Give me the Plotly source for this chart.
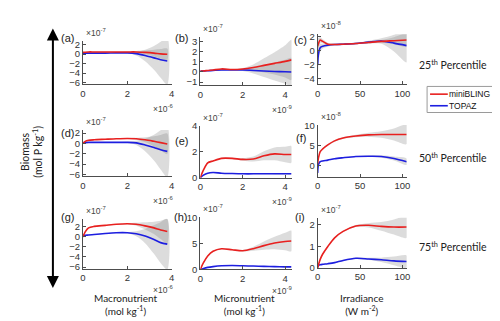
import plotly.graph_objects as go

W, H = 500, 321

# ---------------- data (scaled units: x in 1e-6 / 1e-9 / W m-2, y in shown exponent) ----------
X_MAC = [0, 0.1, 0.25, 0.5, 1.0, 1.5, 2.0, 2.4, 2.8, 3.2, 3.5, 3.8]
X_MIC = [0, 0.15, 0.35, 0.6, 1.0, 1.5, 2.0, 2.5, 3.0, 3.5, 4.0, 4.3]
X_IRR = [0, 1, 3, 6, 12, 20, 30, 45, 60, 75, 90, 105]

# 25th percentile
RED_A = [0.35, 0.4, 0.45, 0.45, 0.45, 0.45, 0.45, 0.45, 0.35, 0.2, 0.05, -0.05]
BLUE_A = [0.2, 0.2, 0.2, 0.2, 0.2, 0.25, 0.25, 0.1, -0.3, -0.8, -1.2, -1.45]
RED_SD_A = [0.1, 0.05, 0.05, 0.05, 0.05, 0.05, 0.1, 0.2, 0.4, 0.7, 1.0, 1.2]
BLUE_SD_A = [0.1, 0.05, 0.05, 0.05, 0.05, 0.05, 0.1, 0.4, 1.2, 2.5, 3.8, 5.0]

RED_B = [0.1, 0.1, 0.15, 0.2, 0.3, 0.25, 0.3, 0.45, 0.65, 0.85, 1.05, 1.2]
BLUE_B = [0.1, 0.1, 0.12, 0.15, 0.2, 0.2, 0.2, 0.15, 0.1, 0.05, 0.02, 0.0]
RED_SD_B = [0.05, 0.05, 0.05, 0.05, 0.05, 0.05, 0.1, 0.3, 0.7, 1.1, 1.6, 2.0]
BLUE_SD_B = [0.05, 0.05, 0.05, 0.05, 0.05, 0.05, 0.1, 0.3, 0.6, 0.9, 1.2, 1.4]

RED_C = [0.6, 1.0, 1.5, 1.3, 0.9, 0.85, 0.9, 1.0, 1.15, 1.3, 1.4, 1.5]
BLUE_C = [-2.0, -0.5, 0.4, 0.6, 0.75, 0.85, 0.9, 1.0, 1.2, 1.35, 1.05, 0.7]
RED_SD_C = [1.2, 0.8, 0.4, 0.3, 0.2, 0.1, 0.1, 0.1, 0.15, 0.2, 0.5, 0.9]
BLUE_SD_C = [2.5, 1.5, 0.6, 0.3, 0.2, 0.1, 0.1, 0.1, 0.2, 0.4, 1.2, 2.4]

# 50th percentile
RED_D = [0.0, 0.4, 0.6, 0.7, 0.8, 0.9, 0.95, 0.9, 0.7, 0.4, 0.15, -0.1]
BLUE_D = [0.1, 0.15, 0.2, 0.2, 0.2, 0.2, 0.2, 0.1, -0.3, -0.8, -1.25, -1.55]
RED_SD_D = [0.1, 0.05, 0.05, 0.05, 0.05, 0.05, 0.1, 0.2, 0.5, 1.0, 1.5, 2.0]
BLUE_SD_D = [0.1, 0.05, 0.05, 0.05, 0.05, 0.05, 0.1, 0.4, 1.2, 2.5, 3.8, 5.0]

RED_E = [0.0, 0.6, 1.15, 1.3, 1.5, 1.5, 1.42, 1.45, 1.7, 1.85, 1.8, 1.8]
BLUE_E = [0.0, 0.2, 0.35, 0.4, 0.35, 0.32, 0.3, 0.3, 0.3, 0.3, 0.3, 0.3]
RED_SD_E = [0.02, 0.03, 0.05, 0.05, 0.05, 0.05, 0.1, 0.2, 0.35, 0.5, 0.6, 0.65]
BLUE_SD_E = [0.01, 0.01, 0.01, 0.01, 0.01, 0.01, 0.02, 0.03, 0.04, 0.05, 0.05, 0.05]

RED_F = [0.5, 2.0, 3.5, 4.2, 5.2, 6.2, 6.9, 7.4, 7.7, 7.8, 7.8, 7.8]
BLUE_F = [-1.8, 0.3, 1.0, 1.2, 1.4, 1.75, 2.0, 2.3, 2.35, 2.3, 1.8, 1.0]
RED_SD_F = [0.5, 0.4, 0.3, 0.2, 0.2, 0.2, 0.2, 0.3, 0.5, 0.8, 1.5, 2.4]
BLUE_SD_F = [0.6, 0.3, 0.2, 0.1, 0.1, 0.1, 0.1, 0.1, 0.2, 0.3, 0.5, 0.8]

# 75th percentile
RED_G = [-0.1, 0.9, 1.7, 2.0, 2.2, 2.4, 2.5, 2.4, 2.1, 1.7, 1.3, 1.0]
BLUE_G = [0.2, 0.25, 0.3, 0.4, 0.6, 0.75, 0.75, 0.55, 0.1, -0.6, -1.2, -1.5]
RED_SD_G = [0.1, 0.1, 0.05, 0.05, 0.05, 0.05, 0.1, 0.3, 0.7, 1.2, 1.8, 2.4]
BLUE_SD_G = [0.1, 0.05, 0.05, 0.05, 0.05, 0.05, 0.1, 0.5, 1.4, 2.8, 4.0, 5.0]

RED_H = [0.0, 1.3, 2.6, 3.5, 4.0, 3.8, 3.6, 4.0, 4.6, 5.1, 5.4, 5.5]
BLUE_H = [0.0, 0.2, 0.4, 0.55, 0.7, 0.75, 0.7, 0.65, 0.6, 0.55, 0.5, 0.5]
RED_SD_H = [0.05, 0.1, 0.1, 0.1, 0.1, 0.1, 0.15, 0.4, 0.8, 1.2, 1.7, 2.0]
BLUE_SD_H = [0.01, 0.01, 0.01, 0.01, 0.02, 0.02, 0.02, 0.03, 0.04, 0.05, 0.05, 0.05]

RED_I = [0.0, 0.15, 0.4, 0.65, 1.0, 1.4, 1.7, 1.95, 1.98, 1.93, 1.9, 1.9]
BLUE_I = [0.05, 0.12, 0.15, 0.17, 0.2, 0.25, 0.35, 0.45, 0.42, 0.38, 0.33, 0.3]
RED_SD_I = [0.02, 0.02, 0.02, 0.03, 0.03, 0.03, 0.03, 0.05, 0.1, 0.2, 0.35, 0.5]
BLUE_SD_I = [0.02, 0.02, 0.02, 0.02, 0.02, 0.02, 0.02, 0.03, 0.05, 0.1, 0.2, 0.28]

PANEL_LABELS = ["(a)", "(b)", "(c)", "(d)", "(e)", "(f)", "(g)", "(h)", "(i)"]
Y_EXP = ["-7", "-7", "-8", "-7", "-7", "-8", "-7", "-7", "-7"]
X_EXP = ["-6", "-9", None]
Y_TICKS = [[-6, -4, -2, 0, 2], [-1, 0, 1, 2, 3], [-4, -2, 0, 2],
           [-6, -4, -2, 0, 2], [0, 2, 4], [0, 5, 10],
           [-6, -4, -2, 0, 2], [0, 5, 10], [0, 1, 2]]
X_TICKS = [[0, 2, 4], [0, 2, 4], [0, 50, 100]]
X_TITLES = ["Macronutrient<br>(mol kg<sup>-1</sup>)", "Micronutrient<br>(mol kg<sup>-1</sup>)",
            "Irradiance<br>(W m<sup>-2</sup>)"]
ROW_LABELS = ["25<sup>th</sup> Percentile", "50<sup>th</sup> Percentile", "75<sup>th</sup> Percentile"]
SERIES = ["miniBLING", "TOPAZ"]

PANELS = [
    (X_MAC, RED_A, BLUE_A, RED_SD_A, BLUE_SD_A), (X_MIC, RED_B, BLUE_B, RED_SD_B, BLUE_SD_B),
    (X_IRR, RED_C, BLUE_C, RED_SD_C, BLUE_SD_C),
    (X_MAC, RED_D, BLUE_D, RED_SD_D, BLUE_SD_D), (X_MIC, RED_E, BLUE_E, RED_SD_E, BLUE_SD_E),
    (X_IRR, RED_F, BLUE_F, RED_SD_F, BLUE_SD_F),
    (X_MAC, RED_G, BLUE_G, RED_SD_G, BLUE_SD_G), (X_MIC, RED_H, BLUE_H, RED_SD_H, BLUE_SD_H),
    (X_IRR, RED_I, BLUE_I, RED_SD_I, BLUE_SD_I),
]

# ---------------- layout geometry (pixels) ----------------
COL_PX = [(73, 163), (192, 284.5), (311, 401.3)]
X_RANGES = [[0, 4.0], [0, 4.3], [0, 105]]
# per panel: (top px, bottom px, ymin, ymax)
Y_GEOM = [
    (28, 73, -6.42, 2.75), (24, 74, -1.34, 3.45), (21, 72.7, -4.83, 2.32),
    (120, 168, -6.37, 2.62), (116, 169.5, 0, 4.01), (115, 168.3, -2.7, 10.15),
    (212, 264, -6.38, 3.5), (210.5, 264.5, 0, 10.07), (211, 263, 0, 2.33),
]
LABEL_POS = [(57, 25), (173, 25), (294, 27), (57, 123), (173, 132), (294, 128),
             (57, 210), (172, 210), (293, 210)]

def px(x):
    return x / W

def py(y):
    return 1 - y / H

RED = "#e8201f"
BLUE = "#1d1ee0"
BAND = "rgba(120,120,120,0.26)"
AXC = "#4d4d4d"
TICKFONT = dict(family="Liberation Sans, Arial", size=9.5, color="#333333")

fig = go.Figure()
layout = {}
annotations = []

for i, (xs, red, blue, rsd, bsd) in enumerate(PANELS):
    r, c = divmod(i, 3)
    n = i + 1
    xa = "x" if n == 1 else f"x{n}"
    ya = "y" if n == 1 else f"y{n}"
    for mean, sd in ((red, rsd), (blue, bsd)):
        lo = [m - s for m, s in zip(mean, sd)]
        hi = [m + s for m, s in zip(mean, sd)]
        fig.add_trace(go.Scatter(x=list(xs) + list(xs)[::-1], y=hi + lo[::-1], fill="toself",
                                 fillcolor=BAND, line=dict(width=0, shape="spline", smoothing=0.8),
                                 mode="lines", hoverinfo="skip", showlegend=False,
                                 xaxis=xa, yaxis=ya))
    fig.add_trace(go.Scatter(x=xs, y=blue, mode="lines", name=SERIES[1],
                             line=dict(color=BLUE, width=1.6, shape="spline", smoothing=0.8),
                             showlegend=False, xaxis=xa, yaxis=ya))
    fig.add_trace(go.Scatter(x=xs, y=red, mode="lines", name=SERIES[0],
                             line=dict(color=RED, width=1.6, shape="spline", smoothing=0.8),
                             showlegend=False, xaxis=xa, yaxis=ya))

    x0, x1 = COL_PX[c]
    t, b, ymin, ymax = Y_GEOM[i]
    key_x = "xaxis" if n == 1 else f"xaxis{n}"
    key_y = "yaxis" if n == 1 else f"yaxis{n}"
    layout[key_x] = dict(domain=[px(x0), px(x1)], range=X_RANGES[c], anchor=ya,
                         tickvals=X_TICKS[c], ticks="inside", ticklen=3, tickcolor=AXC,
                         showline=True, linecolor=AXC, linewidth=1, showgrid=False,
                         zeroline=False, tickfont=TICKFONT, fixedrange=True)
    layout[key_y] = dict(domain=[py(b), py(t)], range=[ymin, ymax], anchor=xa,
                         tickvals=Y_TICKS[i], ticks="inside", ticklen=3, tickcolor=AXC,
                         showline=True, linecolor=AXC, linewidth=1, showgrid=False,
                         zeroline=False, tickfont=TICKFONT, fixedrange=True)
    # panel label
    lx, ly = LABEL_POS[i]
    annotations.append(dict(text=PANEL_LABELS[i], x=px(lx), y=py(ly), xref="paper",
                            yref="paper", xanchor="center", yanchor="middle", showarrow=False,
                            font=dict(family="Liberation Sans, Arial", size=11, color="#222")))
    # y exponent label
    annotations.append(dict(text="×10<sup>" + Y_EXP[i] + "</sup>", x=px(x0 + 1), y=py(t - 1),
                            xref="paper", yref="paper", xanchor="left", yanchor="bottom",
                            showarrow=False,
                            font=dict(family="Liberation Sans, Arial", size=8.5, color="#444")))
    # x exponent label
    if X_EXP[c]:
        off = 17 if r < 2 else 14
        annotations.append(dict(text="×10<sup>" + X_EXP[c] + "</sup>", x=px(x1 + 3),
                                y=py(b + off), xref="paper", yref="paper", xanchor="right",
                                yanchor="top", showarrow=False,
                                font=dict(family="Liberation Sans, Arial", size=8.5, color="#444")))

# x titles
for c, title in enumerate(X_TITLES):
    x0, x1 = COL_PX[c]
    annotations.append(dict(text=title, x=px((x0 + x1) / 2 - 1), y=py(286), xref="paper",
                            yref="paper", xanchor="center", yanchor="top", showarrow=False,
                            align="center",
                            font=dict(family="Lato, Open Sans", size=10, color="#222")))

# row labels
for r, (lab, yy) in enumerate(zip(ROW_LABELS, [52, 149, 241])):
    annotations.append(dict(text=lab, x=px(412), y=py(yy), xref="paper", yref="paper",
                            xanchor="left", yanchor="middle", showarrow=False,
                            font=dict(family="Lato, Open Sans", size=10.5, color="#222")))

# y title
annotations.append(dict(text="Biomass<br>(mol P kg<sup>-1</sup>)", x=px(21), y=py(143),
                        xref="paper", yref="paper", textangle=-90, showarrow=False,
                        xanchor="center", yanchor="middle", align="center",
                        font=dict(family="Lato, Open Sans", size=10.5, color="#222")))

# double arrow
annotations.append(dict(text="", x=px(42.5), y=py(15), xref="paper", yref="paper",
                        ax=0, ay=261, axref="pixel", ayref="pixel", showarrow=True,
                        arrowside="end+start", arrowhead=2, arrowsize=1.2, arrowwidth=2,
                        arrowcolor="#000"))

# legend (drawn manually)
shapes = [
    dict(type="rect", xref="paper", yref="paper", x0=px(422), x1=px(491), y0=py(102), y1=py(75),
         line=dict(color="#9a9a9a", width=1), fillcolor="white"),
    dict(type="line", xref="paper", yref="paper", x0=px(425), x1=px(443), y0=py(83), y1=py(83),
         line=dict(color=RED, width=1.6)),
    dict(type="line", xref="paper", yref="paper", x0=px(425), x1=px(443), y0=py(95), y1=py(95),
         line=dict(color=BLUE, width=1.6)),
]
for name, yy in zip(SERIES, [83, 95]):
    annotations.append(dict(text=name, x=px(442), y=py(yy), xref="paper", yref="paper",
                            xanchor="left", yanchor="middle", showarrow=False,
                            font=dict(family="Liberation Sans, Arial", size=8.5, color="#111")))

fig.update_layout(width=W, height=H, margin=dict(l=0, r=0, t=0, b=0),
                  paper_bgcolor="white", plot_bgcolor="white", showlegend=False,
                  annotations=annotations, shapes=shapes, **layout)

fig.write_html("out.html")
